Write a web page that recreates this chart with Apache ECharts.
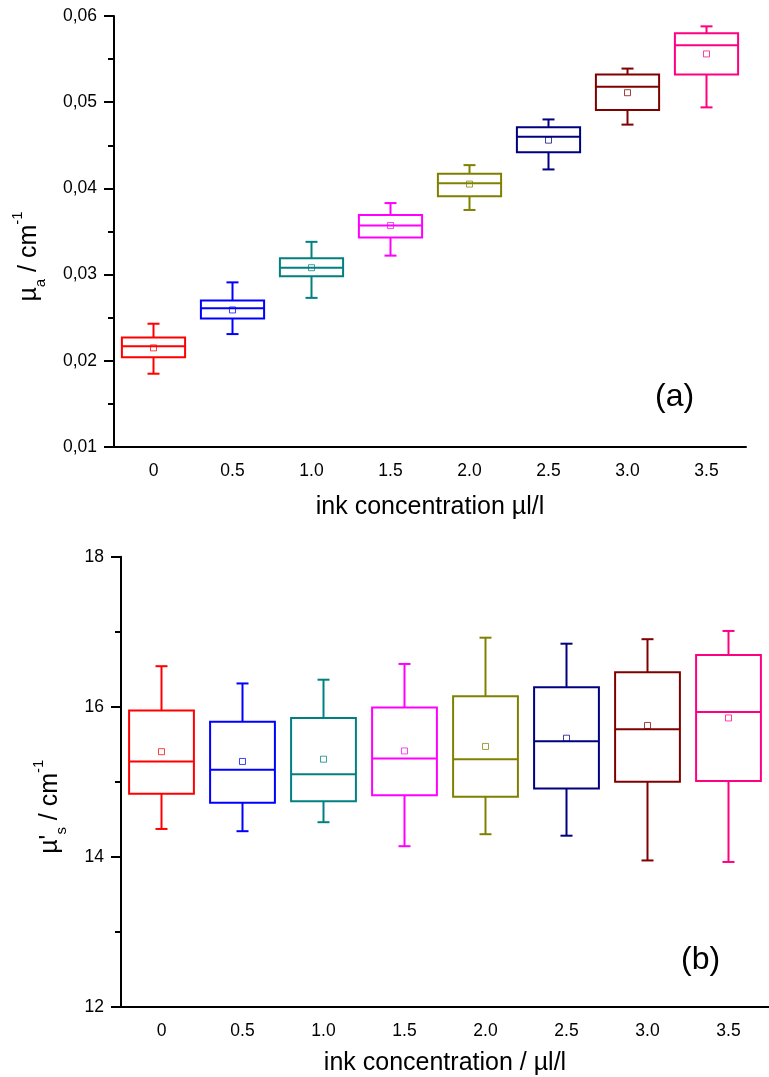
<!DOCTYPE html>
<html>
<head>
<meta charset="utf-8">
<script src="https://cdn.jsdelivr.net/npm/echarts@6/dist/echarts.min.js"></script>
<style>
  html, body { margin: 0; padding: 0; background: #fff; }
  #chart { width: 769px; height: 1077px; }
</style>
</head>
<body>
<div id="chart"></div>
<script>
const categories = ['0', '0.5', '1.0', '1.5', '2.0', '2.5', '3.0', '3.5'];
const colors = ['#ff0000', '#0000ff', '#008080', '#ff00ff', '#808000', '#000080', '#800000', '#ff0080'];

// [min, q1, median, q3, max]
const muaBoxes = [
  [0.0185, 0.0204, 0.0217, 0.0227, 0.0243],
  [0.0231, 0.0249, 0.0261, 0.0270, 0.0291],
  [0.0273, 0.0298, 0.0308, 0.0319, 0.0338],
  [0.0322, 0.0343, 0.0357, 0.0369, 0.0383],
  [0.0375, 0.0391, 0.0406, 0.0417, 0.0427],
  [0.0422, 0.0442, 0.0460, 0.0471, 0.0480],
  [0.0474, 0.0491, 0.0518, 0.0532, 0.0539],
  [0.0494, 0.0532, 0.0566, 0.0580, 0.0588]
];
const muaMeans = [0.0215, 0.0259, 0.0308, 0.0357, 0.0405, 0.0456, 0.0511, 0.0556];

const musBoxes = [
  [14.37, 14.84, 15.27, 15.95, 16.54],
  [14.34, 14.72, 15.16, 15.80, 16.31],
  [14.46, 14.74, 15.10, 15.85, 16.36],
  [14.14, 14.82, 15.31, 15.99, 16.57],
  [14.30, 14.80, 15.30, 16.14, 16.92],
  [14.28, 14.91, 15.54, 16.26, 16.84],
  [13.95, 15.00, 15.70, 16.46, 16.90],
  [13.93, 15.01, 15.93, 16.69, 17.01]
];
const musMeans = [15.40, 15.27, 15.30, 15.41, 15.47, 15.58, 15.75, 15.85];

const font = 'Liberation Sans, Arial, sans-serif';

function renderBox(params, api) {
  const i = api.value(0);
  const c = colors[i];
  const half = api.size([1, 0])[0] * 0.4;
  const cap = 6;
  const pMin = api.coord([i, api.value(1)]);
  const pQ1 = api.coord([i, api.value(2)]);
  const pMed = api.coord([i, api.value(3)]);
  const pQ3 = api.coord([i, api.value(4)]);
  const pMax = api.coord([i, api.value(5)]);
  const x = pMed[0];
  const st = { stroke: c, lineWidth: 2, fill: 'none' };
  return {
    type: 'group',
    children: [
      { type: 'rect', shape: { x: x - half, y: pQ3[1], width: half * 2, height: pQ1[1] - pQ3[1] }, style: st },
      { type: 'line', shape: { x1: x - half, y1: pMed[1], x2: x + half, y2: pMed[1] }, style: st },
      { type: 'line', shape: { x1: x, y1: pQ3[1], x2: x, y2: pMax[1] }, style: st },
      { type: 'line', shape: { x1: x, y1: pQ1[1], x2: x, y2: pMin[1] }, style: st },
      { type: 'line', shape: { x1: x - cap, y1: pMax[1], x2: x + cap, y2: pMax[1] }, style: st },
      { type: 'line', shape: { x1: x - cap, y1: pMin[1], x2: x + cap, y2: pMin[1] }, style: st }
    ]
  };
}

function xAxisOpt(idx, name, gap) {
  return {
    type: 'category', gridIndex: idx, data: categories, boundaryGap: true,
    name: name, nameLocation: 'middle', nameGap: gap,
    nameTextStyle: { fontSize: 25, fontFamily: font, color: '#000' },
    axisLine: { lineStyle: { color: '#000', width: 2 } },
    axisTick: { alignWithLabel: true, length: 9, lineStyle: { width: 2 } },
    axisLabel: { margin: 15, fontSize: 17.5, fontFamily: font, color: '#000' },
    splitLine: { show: false }
  };
}

const rich = {
  m: { fontSize: 25, fontFamily: font, color: '#000', lineHeight: 38, verticalAlign: 'middle' },
  sub: { fontSize: 15, fontFamily: font, color: '#000', lineHeight: 15, verticalAlign: 'bottom' },
  sup: { fontSize: 15, fontFamily: font, color: '#000', lineHeight: 15, verticalAlign: 'top' }
};

function yAxisOpt(idx, min, max, interval, name, gap, fmt) {
  return {
    type: 'value', gridIndex: idx, min: min, max: max, interval: interval,
    name: name, nameLocation: 'middle', nameGap: gap,
    nameTextStyle: { rich: rich, padding: [0, 50, 0, 0] },
    axisLine: { show: true, lineStyle: { color: '#000', width: 2 } },
    axisTick: { show: true, length: 10, lineStyle: { width: 2 } },
    minorTick: { show: true, splitNumber: 2, length: 6, lineStyle: { color: '#000', width: 2 } },
    axisLabel: { margin: 17, fontSize: 17.5, fontFamily: font, color: '#000', formatter: fmt },
    splitLine: { show: false }
  };
}

const myChart = echarts.init(document.getElementById('chart'));
let option;

option = {
  backgroundColor: '#fff',
  animation: false,
  grid: [
    { left: 114, top: 16, width: 632, height: 431 },
    { left: 121, top: 556.7, width: 657.6, height: 450 }
  ],
  xAxis: [
    xAxisOpt(0, 'ink concentration \u00b5l/l', 48),
    xAxisOpt(1, 'ink concentration / \u00b5l/l', 44)
  ],
  yAxis: [
    yAxisOpt(0, 0.01, 0.06, 0.01, '{m|\u00b5}{sub|a}{m| / cm}{sup|-1}', 66,
      v => v.toFixed(2).replace('.', ',')),
    yAxisOpt(1, 12, 18, 2, '{m|\u00b5\'}{sub|s}{m| / cm}{sup|-1}', 52,
      v => String(v))
  ],
  graphic: [
    { type: 'text', x: 655, y: 397, style: { text: '(a)', fontSize: 32, fontFamily: font, fill: '#000', verticalAlign: 'middle' } },
    { type: 'text', x: 681, y: 960, style: { text: '(b)', fontSize: 32, fontFamily: font, fill: '#000', verticalAlign: 'middle' } }
  ],
  series: [
    {
      type: 'custom', xAxisIndex: 0, yAxisIndex: 0, renderItem: renderBox,
      encode: { x: 0, y: [1, 2, 3, 4, 5] },
      data: muaBoxes.map((b, i) => [i].concat(b))
    },
    {
      type: 'scatter', xAxisIndex: 0, yAxisIndex: 0, symbol: 'rect', symbolSize: 6,
      data: muaMeans.map((v, i) => ({ value: [i, v], itemStyle: { color: 'rgba(0,0,0,0)', borderColor: colors[i], borderWidth: 1, opacity: 0.75 } }))
    },
    {
      type: 'custom', xAxisIndex: 1, yAxisIndex: 1, renderItem: renderBox,
      encode: { x: 0, y: [1, 2, 3, 4, 5] },
      data: musBoxes.map((b, i) => [i].concat(b))
    },
    {
      type: 'scatter', xAxisIndex: 1, yAxisIndex: 1, symbol: 'rect', symbolSize: 6,
      data: musMeans.map((v, i) => ({ value: [i, v], itemStyle: { color: 'rgba(0,0,0,0)', borderColor: colors[i], borderWidth: 1, opacity: 0.75 } }))
    }
  ]
};

option && myChart.setOption(option);
</script>
</body>
</html>
